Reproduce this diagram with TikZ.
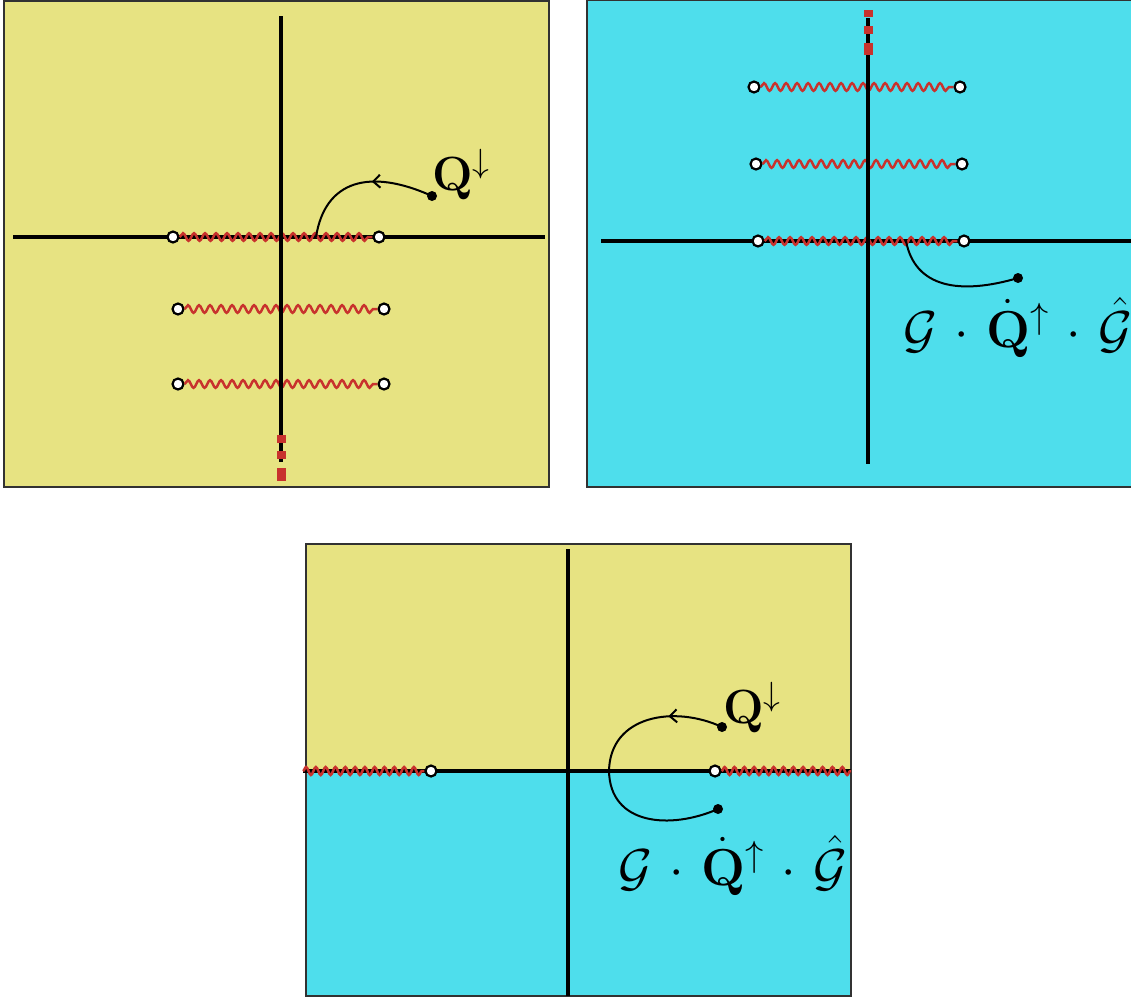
\RequirePackage{fix-cm}
\documentclass[tikz,border=0pt]{standalone}
\usetikzlibrary{decorations.pathmorphing,decorations.markings,arrows.meta}
\definecolor{pyel}{RGB}{231,227,130}
\definecolor{pcyan}{RGB}{78,222,236}
\definecolor{wred}{RGB}{200,50,45}
\definecolor{bord}{RGB}{50,50,50}
\tikzset{
  panelbox/.style={draw=bord,line width=1.5pt},
  axisline/.style={line width=3.2pt,black},
  wavy/.style={wred,line width=2.5pt,decorate,decoration={snake,amplitude=3.8pt,segment length=11pt}},
  wavyb/.style={wred,line width=2.5pt,decorate,decoration={snake,amplitude=4pt,segment length=9.8pt}},
  endpt/.style={circle,draw=black,fill=white,line width=2.2pt,inner sep=0pt,minimum size=11pt},
  dotpt/.style={circle,fill=black,inner sep=0pt,minimum size=10pt},
  flow/.style={line width=2pt,black},
  flowarrow/.style={postaction={decorate,decoration={markings,mark=at position #1 with {\arrow{Straight Barb[length=7pt,width=13pt,line width=2pt]}}}}},
  lab/.style={font=\fontsize{48}{54}\selectfont,inner sep=0pt},
  labg/.style={font=\fontsize{52}{58}\selectfont,inner sep=0pt}
}
\newcommand{\gqexpr}{$\mathcal{G}\mskip2mu\cdot\mskip2mu\dot{\mathbf{Q}}^{\uparrow}\mskip2mu\cdot\mskip2mu\hat{\mathcal{G}}$}
\begin{document}
\begin{tikzpicture}[x=1pt,y=-1pt]
\useasboundingbox (0,0) rectangle (1131,999);
% ---------- panel 1 (yellow) ----------
\fill[pyel] (4,1) rectangle (549,487);
\draw[panelbox] (4,1) rectangle (549,487);
\draw[axisline] (13,237) -- (545,237);
\node[endpt] (a1) at (173,237) {};
\node[endpt] (b1) at (379,237) {};
\node[endpt] (a2) at (178,309) {};
\node[endpt] (b2) at (384,309) {};
\node[endpt] (a3) at (178,384) {};
\node[endpt] (b3) at (384,384) {};
\draw[wavy] (a1) -- (b1);
\draw[wavy] (a2) -- (b2);
\draw[wavy] (a3) -- (b3);
\draw[axisline] (281,16) -- (281,462);
\fill[wred] (276.5,435) rectangle (285.5,443);
\fill[wred] (276.5,451) rectangle (285.5,459);
\fill[wred] (276.5,468) rectangle (285.5,481);
\coordinate (s1) at (316,237);
\node[dotpt] (d1) at (432,196) {};
\draw[flow,flowarrow=0.42] (d1.center) .. controls (370,168) and (325,180) .. (s1);
\node[lab,anchor=base west] (q1) at (432,190) {$\mathbf{Q}^{\downarrow}$};
% ---------- panel 2 (cyan) ----------
\fill[pcyan] (587,0) rectangle (1131,487);
\draw[panelbox] (1131,0.6) -- (587,0.6) -- (587,487) -- (1131,487);
\draw[axisline] (601,241) -- (1131,241);
\node[endpt] (c1) at (754,87) {};
\node[endpt] (e1) at (960,87) {};
\node[endpt] (c2) at (756,164) {};
\node[endpt] (e2) at (962,164) {};
\node[endpt] (c3) at (758,241) {};
\node[endpt] (e3) at (964,241) {};
\draw[wavy] (c1) -- (e1);
\draw[wavy] (c2) -- (e2);
\draw[wavy] (c3) -- (e3);
\draw[axisline] (868,18) -- (868,464);
\fill[wred] (864,10) rectangle (873,17);
\fill[wred] (864,26) rectangle (873,33.5);
\fill[wred] (864,42.5) rectangle (873,55);
\coordinate (s2) at (906,241);
\node[dotpt] (d2) at (1018,278) {};
\draw[flow] (s2) .. controls (915,288) and (960,295) .. (d2.center);
\node[labg,anchor=base west] (g2) at (903,347) {\gqexpr};
% ---------- panel 3 (split) ----------
\fill[pyel] (306,544) rectangle (851,771);
\fill[pcyan] (306,771) rectangle (851,996);
\draw[panelbox] (306,544) rectangle (851,996);
\draw[axisline] (303,771) -- (851,771);
\draw[axisline] (568,549) -- (568,996);
\coordinate (l3) at (303,771);
\coordinate (r3) at (851,771);
\node[endpt] (f1) at (431,771) {};
\node[endpt] (f2) at (715,771) {};
\draw[wavyb] (l3) -- (f1);
\draw[wavyb] (f2) -- (r3);
\coordinate (s3) at (609,771);
\node[dotpt] (d3) at (722,727) {};
\node[dotpt] (d4) at (718,809) {};
\draw[flow,flowarrow=0.38] (d3.center) .. controls (675,705) and (610,715) .. (s3);
\draw[flow] (s3) .. controls (610,825) and (670,830) .. (d4.center);
\node[lab,anchor=base west] (q3) at (723,723) {$\mathbf{Q}^{\downarrow}$};
\node[labg,anchor=base west] (g3) at (618,885) {\gqexpr};
\end{tikzpicture}
\end{document}
